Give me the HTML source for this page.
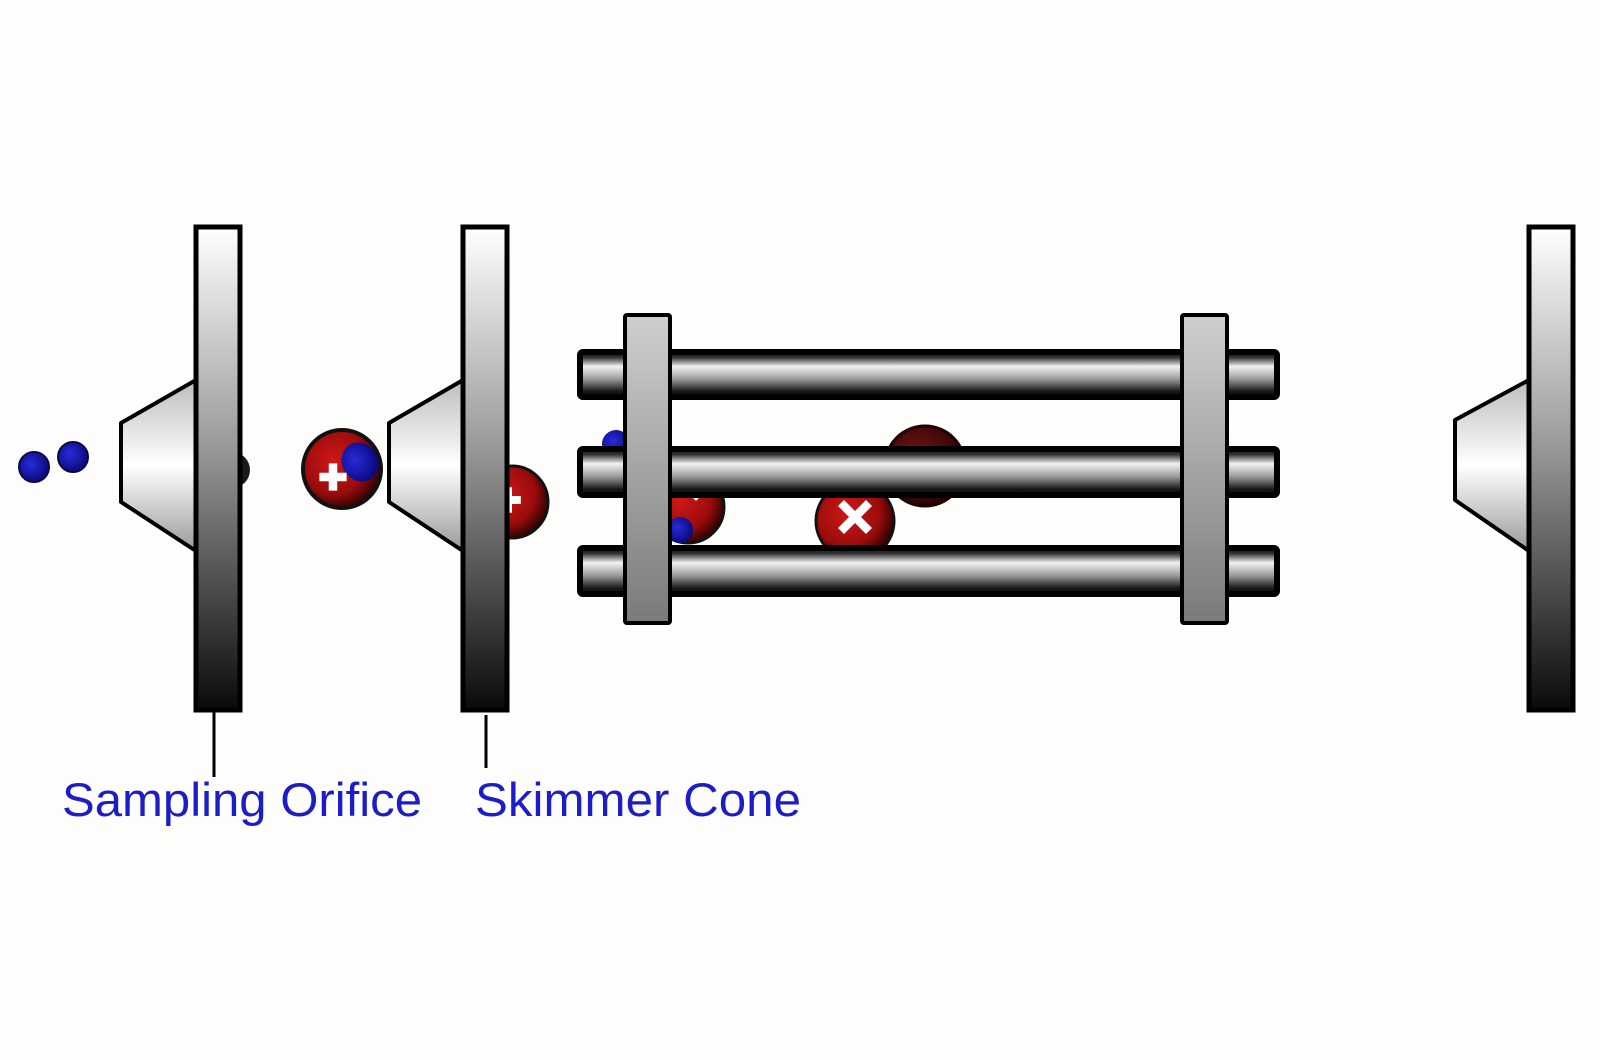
<!DOCTYPE html>
<html><head><meta charset="utf-8">
<style>html,body{margin:0;padding:0;background:#fdfdfb;}svg{display:block}</style>
</head><body>
<svg width="1600" height="1060" viewBox="0 0 1600 1060" xmlns="http://www.w3.org/2000/svg">
<defs>
<linearGradient id="plate" x1="0" y1="0" x2="0" y2="1">
<stop offset="0" stop-color="#ffffff"/><stop offset="0.45" stop-color="#9a9a9a"/><stop offset="1" stop-color="#0a0a0a"/>
</linearGradient>
<linearGradient id="cone" x1="0" y1="0" x2="0" y2="1">
<stop offset="0" stop-color="#bdbdbd"/><stop offset="0.5" stop-color="#ffffff"/><stop offset="1" stop-color="#9a9a9a"/>
</linearGradient>
<linearGradient id="rod" x1="0" y1="0" x2="0" y2="1">
<stop offset="0" stop-color="#111"/><stop offset="0.12" stop-color="#333"/><stop offset="0.32" stop-color="#f2f2f2"/><stop offset="0.6" stop-color="#9a9a9a"/><stop offset="0.88" stop-color="#151515"/><stop offset="1" stop-color="#111"/>
</linearGradient>
<linearGradient id="bar" x1="0" y1="0" x2="0" y2="1">
<stop offset="0" stop-color="#cfcfcf"/><stop offset="1" stop-color="#7a7a7a"/>
</linearGradient>
<radialGradient id="ion" cx="0.4" cy="0.4" r="0.6">
<stop offset="0" stop-color="#d01818"/><stop offset="0.7" stop-color="#9a0c0c"/><stop offset="1" stop-color="#3a0303"/>
</radialGradient>
<radialGradient id="ionD" cx="0.4" cy="0.4" r="0.6">
<stop offset="0" stop-color="#7a1414"/><stop offset="1" stop-color="#2a0404"/>
</radialGradient>
<radialGradient id="blue" cx="0.4" cy="0.4" r="0.6">
<stop offset="0" stop-color="#2a2ad8"/><stop offset="1" stop-color="#0a0a80"/>
</radialGradient>
<symbol id="plus" viewBox="-10 -10 20 20"><path d="M-2.5 -8h5v5.5h5.5v5h-5.5v5.5h-5v-5.5h-5.5v-5h5.5z" fill="#fff"/></symbol>
</defs>

<circle cx="34" cy="467" r="15" fill="url(#blue)" stroke="#0a0a40" stroke-width="2"/>
<circle cx="73" cy="457" r="15" fill="url(#blue)" stroke="#0a0a40" stroke-width="2"/>

<circle cx="232" cy="470" r="18" fill="#1a1a1a"/>

<polygon points="121,423 196,380 196,551 121,502" fill="url(#cone)" stroke="#000" stroke-width="4" stroke-linejoin="round"/>
<rect x="196" y="227" width="44" height="483" fill="url(#plate)" stroke="#000" stroke-width="5"/>

<g>
<circle cx="342" cy="469" r="39" fill="url(#ion)" stroke="#111" stroke-width="4"/>
<ellipse cx="360" cy="462" rx="18" ry="20" fill="url(#blue)" transform="rotate(-30 360 462)"/>
<use href="#plus" x="316" y="460" width="34" height="34"/>
</g>

<g>
<circle cx="512" cy="502" r="36" fill="url(#ion)" stroke="#111" stroke-width="3"/>
<use href="#plus" x="492" y="484" width="32" height="32"/>
</g>

<polygon points="389,423 463,380 463,551 389,502" fill="url(#cone)" stroke="#000" stroke-width="4" stroke-linejoin="round"/>
<rect x="463" y="227" width="44" height="483" fill="url(#plate)" stroke="#000" stroke-width="5"/>

<circle cx="616" cy="444" r="14" fill="url(#blue)"/>
<circle cx="688" cy="507" r="36" fill="url(#ion)" stroke="#111" stroke-width="3"/>
<path d="M690 495 l10 -10 l6 6 l-10 10z" fill="#fff"/>
<circle cx="680" cy="530" r="13" fill="url(#blue)"/>
<circle cx="925" cy="466" r="40" fill="url(#ionD)" stroke="#220000" stroke-width="3"/>
<circle cx="855" cy="521" r="39" fill="url(#ion)" stroke="#111" stroke-width="3"/>
<path d="M838 506 l6 -6 l11 11 l11 -11 l6 6 l-11 11 l11 11 l-6 6 l-11 -11 l-11 11 l-6 -6 l11 -11z" fill="#fff"/>

<rect x="580" y="352" width="697" height="45" rx="3" fill="url(#rod)" stroke="#000" stroke-width="6"/>
<rect x="580" y="449" width="697" height="46" rx="3" fill="url(#rod)" stroke="#000" stroke-width="6"/>
<rect x="580" y="548" width="697" height="46" rx="3" fill="url(#rod)" stroke="#000" stroke-width="6"/>

<rect x="625" y="315" width="45" height="308" rx="2" fill="url(#bar)" stroke="#000" stroke-width="4"/>
<rect x="1182" y="315" width="45" height="308" rx="2" fill="url(#bar)" stroke="#000" stroke-width="4"/>

<polygon points="1455,420 1529,380 1529,551 1455,500" fill="url(#cone)" stroke="#000" stroke-width="4" stroke-linejoin="round"/>
<rect x="1529" y="227" width="44" height="483" fill="url(#plate)" stroke="#000" stroke-width="5"/>

<line x1="214" y1="712" x2="214" y2="777" stroke="#000" stroke-width="3"/>
<line x1="486" y1="715" x2="486" y2="768" stroke="#000" stroke-width="3"/>

<text x="62" y="816" font-family="Liberation Sans, Arial, sans-serif" font-size="47" fill="#1c1cc8" textLength="360" lengthAdjust="spacingAndGlyphs">Sampling Orifice</text>
<text x="475" y="816" font-family="Liberation Sans, Arial, sans-serif" font-size="47" fill="#1c1cc8" textLength="326" lengthAdjust="spacingAndGlyphs">Skimmer Cone</text>
</svg>
</body></html>
